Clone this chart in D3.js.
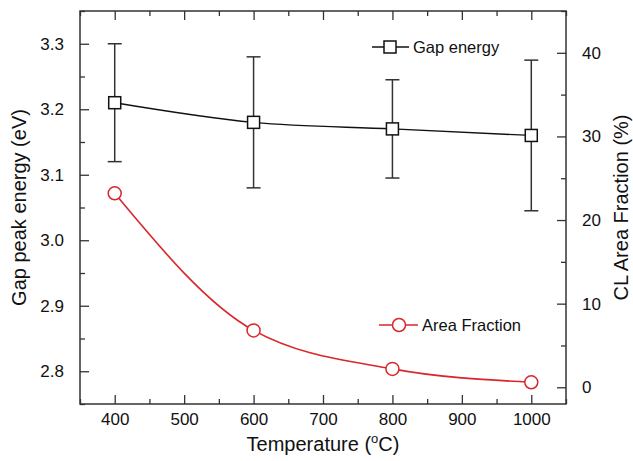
<!DOCTYPE html>
<html>
<head>
<meta charset="utf-8">
<script src="https://cdn.jsdelivr.net/npm/d3@7"></script>
<style>
  body { margin: 0; background: #fff; }
  text { font-family: "Liberation Sans", Arial, sans-serif; fill: #111; }
</style>
</head>
<body>
<svg id="chart" width="633" height="461"></svg>
<script>
// temperatures (°C)
var temps = [400, 600, 800, 1000];
// gap peak energy (eV) and its error bars
var gapEnergy = [3.21, 3.18, 3.17, 3.16];
var gapHigh = [3.30, 3.28, 3.245, 3.275];
var gapLow = [3.12, 3.08, 3.095, 3.045];
// CL area fraction (%)
var areaFraction = [23.2, 6.8, 2.2, 0.6];

var xTicks = [400, 500, 600, 700, 800, 900, 1000];
var yLeftTicks = [2.8, 2.9, 3.0, 3.1, 3.2, 3.3];
var yRightTicks = [0, 10, 20, 30, 40];

var margin = {left: 80, right: 67, top: 11, bottom: 57},
    width = 633 - margin.left - margin.right,
    height = 461 - margin.top - margin.bottom;

var svg = d3.select("#chart");
var g = svg.append("g").attr("transform", "translate(" + margin.left + "," + margin.top + ")");

var x = d3.scaleLinear().domain([350, 1050]).range([0, width]);
var yL = d3.scaleLinear().domain([2.75, 3.35]).range([height, 0]);
var yR = d3.scaleLinear().domain([-2, 45]).range([height, 0]);

var axisColor = "#333";

// minor + major ticks, all pointing inward
function drawAxis(axisGen, transform, withLabels) {
	var a = g.append("g").attr("transform", transform).call(axisGen);
	a.select(".domain").remove();
	a.selectAll("line").attr("stroke", axisColor).attr("stroke-width", 1.3);
	a.selectAll("text").style("font-size", "17px").attr("fill", "#111");
	if (!withLabels) a.selectAll("text").remove();
	return a;
}

var xMinor = d3.range(350, 1051, 50).filter(function(d){ return xTicks.indexOf(d) < 0; });
var yLMinor = [2.75, 2.85, 2.95, 3.05, 3.15, 3.25, 3.35];
var yRMinor = [5, 15, 25, 35, 45];

// bottom
drawAxis(d3.axisBottom(x).tickValues(xTicks).tickSize(-9).tickPadding(9).tickFormat(d3.format("d")), "translate(0," + height + ")", true);
drawAxis(d3.axisBottom(x).tickValues(xMinor).tickSize(-5), "translate(0," + height + ")", false);
// top
drawAxis(d3.axisTop(x).tickValues(xTicks).tickSize(-9), "translate(0,0)", false);
drawAxis(d3.axisTop(x).tickValues(xMinor).tickSize(-5), "translate(0,0)", false);
// left
drawAxis(d3.axisLeft(yL).tickValues(yLeftTicks).tickSize(-9).tickPadding(16).tickFormat(d3.format(".1f")), "translate(0,0)", true);
drawAxis(d3.axisLeft(yL).tickValues(yLMinor).tickSize(-5), "translate(0,0)", false);
// right
drawAxis(d3.axisRight(yR).tickValues(yRightTicks).tickSize(-9).tickPadding(16), "translate(" + width + ",0)", true);
drawAxis(d3.axisRight(yR).tickValues(yRMinor).tickSize(-5), "translate(" + width + ",0)", false);

// frame
g.append("rect").attr("width", width).attr("height", height)
	.attr("fill", "none").attr("stroke", axisColor).attr("stroke-width", 1.5);

// axis titles
svg.append("text").attr("transform", "translate(26," + (margin.top + height / 2) + ") rotate(-90)")
	.attr("text-anchor", "middle").style("font-size", "20px").text("Gap peak energy (eV)");
svg.append("text").attr("transform", "translate(628," + (margin.top + height / 2) + ") rotate(-90)")
	.attr("text-anchor", "middle").style("font-size", "20px").text("CL Area Fraction (%)");
var xt = svg.append("text").attr("x", margin.left + width / 2).attr("y", 451)
	.attr("text-anchor", "middle").style("font-size", "20px");
xt.append("tspan").text("Temperature (");
xt.append("tspan").attr("dy", -8).style("font-size", "13px").text("o");
xt.append("tspan").attr("dy", 8).text("C)");

// gap energy series
var gapData = temps.map(function(t, i){ return {t: t, v: gapEnergy[i], hi: gapHigh[i], lo: gapLow[i]}; });
var areaData = temps.map(function(t, i){ return {t: t, v: areaFraction[i]}; });

var gapLine = d3.line().x(function(d){ return x(d.t); }).y(function(d){ return yL(d.v); }).curve(d3.curveMonotoneX);
var areaLine = d3.line().x(function(d){ return x(d.t); }).y(function(d){ return yR(d.v); }).curve(d3.curveMonotoneX);

g.append("path").datum(gapData).attr("d", gapLine)
	.attr("fill", "none").attr("stroke", "#111").attr("stroke-width", 1.4);

var eb = g.append("g").selectAll("g").data(gapData).enter().append("g");
eb.append("line")
	.attr("x1", function(d){ return x(d.t); }).attr("x2", function(d){ return x(d.t); })
	.attr("y1", function(d){ return yL(d.hi); }).attr("y2", function(d){ return yL(d.lo); })
	.attr("stroke", "#333").attr("stroke-width", 1.5);
["hi", "lo"].forEach(function(k){
	eb.append("line")
		.attr("x1", function(d){ return x(d.t) - 7; }).attr("x2", function(d){ return x(d.t) + 7; })
		.attr("y1", function(d){ return yL(d[k]); }).attr("y2", function(d){ return yL(d[k]); })
		.attr("stroke", "#333").attr("stroke-width", 1.5);
});
eb.append("rect")
	.attr("x", function(d){ return x(d.t) - 6; }).attr("y", function(d){ return yL(d.v) - 6; })
	.attr("width", 12).attr("height", 12)
	.attr("fill", "#fff").attr("stroke", "#111").attr("stroke-width", 1.5);

// area fraction series
var red = "#d8262b";
g.append("path").datum(areaData).attr("d", areaLine)
	.attr("fill", "none").attr("stroke", red).attr("stroke-width", 1.6);
g.append("g").selectAll("circle").data(areaData).enter().append("circle")
	.attr("cx", function(d){ return x(d.t); }).attr("cy", function(d){ return yR(d.v); })
	.attr("r", 6.5).attr("fill", "#fff").attr("stroke", red).attr("stroke-width", 1.5);

// legends
var leg1 = svg.append("g").attr("transform", "translate(390,47)");
leg1.append("line").attr("x1", -18).attr("x2", 19).attr("stroke", "#111").attr("stroke-width", 1.4);
leg1.append("rect").attr("x", -6).attr("y", -6).attr("width", 12).attr("height", 12)
	.attr("fill", "#fff").attr("stroke", "#111").attr("stroke-width", 1.5);
leg1.append("text").attr("x", 23).attr("y", 6).style("font-size", "16.5px").text("Gap energy");

var leg2 = svg.append("g").attr("transform", "translate(399,325)");
leg2.append("line").attr("x1", -20).attr("x2", 19).attr("stroke", red).attr("stroke-width", 1.6);
leg2.append("circle").attr("r", 6.5).attr("fill", "#fff").attr("stroke", red).attr("stroke-width", 1.5);
leg2.append("text").attr("x", 23).attr("y", 6).style("font-size", "16.5px").text("Area Fraction");
</script>
</body>
</html>
